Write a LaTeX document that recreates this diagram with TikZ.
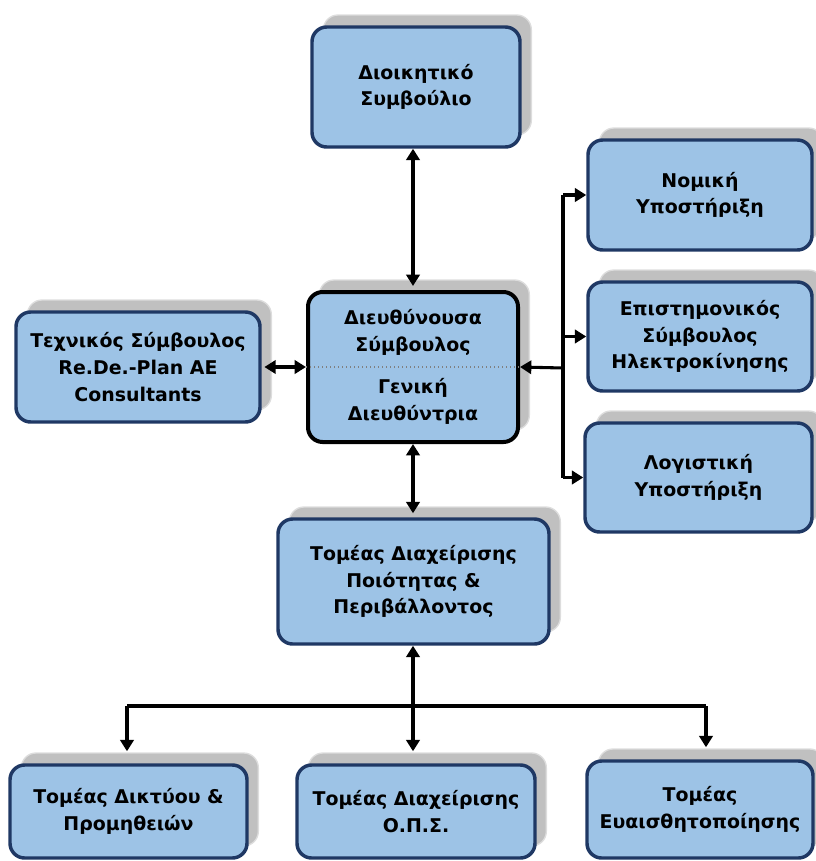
\documentclass[tikz,border=0pt]{standalone}
\usepackage{fontspec}
\setmainfont{DejaVu Sans}
\usetikzlibrary{shadows,arrows.meta}
\definecolor{boxblue}{HTML}{9DC3E6}
\definecolor{navy}{HTML}{1F3864}
\definecolor{shgrey}{HTML}{C0C0C0}
\definecolor{shedge}{HTML}{DDDDDD}
\tikzset{
  orgbox/.style={draw=navy, line width=2.6pt, fill=boxblue, rounded corners=11pt,
    align=center, inner sep=0pt,
    font=\fontsize{14.2}{20}\selectfont\bfseries,
    copy shadow={shadow xshift=8.5pt, shadow yshift=9pt, fill=shgrey, draw=shedge, line width=1pt}},
  ceobox/.style={draw=black, line width=3pt},
  conn/.style={line width=2.3pt, draw=black},
  >={Triangle[width=10pt,length=8.5pt]}
}
\newcommand\obox[7][]{\node[orgbox,#1,minimum width={(#5-#3)*0.75pt},minimum height={(#6-#4)*0.75pt}] (#2) at ({(#3+#5)/2},{(#4+#6)/2}) {#7};}
\begin{document}
\begin{tikzpicture}[x=0.75pt,y=-0.75pt]
\useasboundingbox (0,0) rectangle (816,861);
\obox{A}{312}{27}{520}{147}{Διοικητικό\\Συμβούλιο}
\obox[ceobox]{C}{308}{292}{518}{442}{Διευθύνουσα\\Σύμβουλος\\[12pt]Γενική\\Διευθύντρια}
\draw[dotted, gray, line width=1pt] (C.west) -- (C.east);
\obox{T}{16}{312}{260}{422}{Τεχνικός Σύμβουλος\\Re.De.-Plan AE\\Consultants}
\obox{N}{588}{140}{812}{250}{Νομική\\Υποστήριξη}
\obox{E}{588}{282}{812}{391}{Επιστημονικός\\Σύμβουλος\\Ηλεκτροκίνησης}
\obox{L}{585}{423}{812}{532}{Λογιστική\\Υποστήριξη}
\obox{Q}{278}{519}{549}{644}{Τομέας Διαχείρισης\\Ποιότητας \&\\Περιβάλλοντος}
\obox{B1}{10}{765}{247}{858}{Τομέας Δικτύου \&\\Προμηθειών}
\obox{B2}{297}{765}{535}{858}{Τομέας Διαχείρισης\\Ο.Π.Σ.}
\obox{B3}{587}{761}{813}{858}{Τομέας\\Ευαισθητοποίησης}
% connectors
\coordinate (bus) at (563,368);
\coordinate (j) at (413,706);
\draw[conn,<->] (A.south -| C.north) -- ([yshift=3pt]C.north);
\draw[conn,<->] (C.south) -- ([yshift=3pt]Q.north -| C.south);
\draw[conn,<->] ([xshift=2pt]T.east |- C.west) -- (C.west);
\draw[conn,->] (bus) -- (C.east);
\draw[conn] (N.west -| bus) -- (L.west -| bus);
\draw[conn,->] (N.west -| bus) -- (N.west);
\draw[conn,->] (E.west -| bus) -- (E.west);
\draw[conn,->] (L.west -| bus) -- (L.west);
\draw[conn,->] (j) -- (Q.south -| j);
\draw[conn] (j -| 127,0) -- (j -| 706,0);
\draw[conn,->] (j -| 127,0) -- ([yshift=9pt]B1.north -| 127,0);
\draw[conn,->] (j) -- ([yshift=9pt]B2.north -| j);
\draw[conn,->] (j -| 706,0) -- ([yshift=9pt]B3.north -| 706,0);
\end{tikzpicture}
\end{document}
